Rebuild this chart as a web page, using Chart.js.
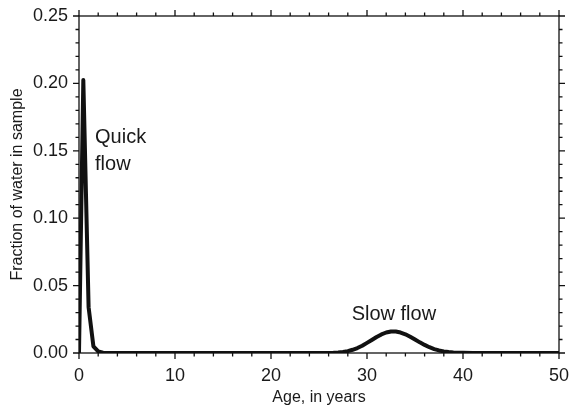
<!DOCTYPE html>
<html lang="en">
<head>
    <meta charset="UTF-8">
    <title>Age distribution</title>
    <script src="https://cdn.jsdelivr.net/npm/chart.js"></script>
    <style>
        body { margin: 0; background: #fff; }
        #graph { width: 570px; height: 407px; }
    </style>
</head>
<body>
    <div id="graph">
        <canvas id="myChart" width="570" height="407"></canvas>
    </div>

<script>
    // ages (years) and fraction of water in sample
    const ages = [0, 0.45, 1, 1.5, 2, 2.5, 3, 4, 6, 8, 10, 15, 20, 25, 26,
        26.5, 27, 27.5, 28, 28.5, 29, 29.5, 30, 30.5, 31, 31.5, 32, 32.5, 33, 33.5,
        34, 34.5, 35, 35.5, 36, 36.5, 37, 37.5, 38, 38.5, 39, 39.5, 40, 41, 45, 50];
    const fraction = [0, 0.2025, 0.034, 0.005, 0.0012, 0.0002, 0, 0, 0, 0, 0, 0, 0, 0, 0,
        0.0001, 0.0003, 0.0007, 0.0014, 0.0024, 0.0037, 0.0054, 0.0075, 0.0097, 0.0119, 0.0138, 0.0152, 0.0160, 0.0159, 0.0152,
        0.0139, 0.0121, 0.0100, 0.0079, 0.0060, 0.0043, 0.0029, 0.0019, 0.0012, 0.0007, 0.0004, 0.0002, 0.0001, 0, 0, 0];

    const xTicks = [0, 10, 20, 30, 40, 50];
    const yTicks = [0, 0.05, 0.10, 0.15, 0.20, 0.25];

    const labels = [
        { text: 'Quick', x: 1.67, y: 0.1555, align: 'left' },
        { text: 'flow', x: 1.67, y: 0.136, align: 'left' },
        { text: 'Slow flow', x: 32.8, y: 0.0245, align: 'center' }
    ];

    const punti = ages.map((a, i) => ({ x: a, y: fraction[i] }));

    // frame, ticks and the text labels
    const moldura = {
        id: 'moldura',
        afterDraw(chart) {
            const c = chart.ctx;
            const a = chart.chartArea;
            const xs = chart.scales.x;
            const ys = chart.scales.y;
            c.save();
            c.strokeStyle = '#111';
            c.lineWidth = 1.3;
            c.strokeRect(a.left, a.top, a.right - a.left, a.bottom - a.top);
            // x ticks every 2 years, major every 10
            for (let v = 0; v <= 50; v += 2) {
                const px = xs.getPixelForValue(v);
                const len = (v % 10 === 0) ? 6 : 3.5;
                c.beginPath();
                c.moveTo(px, a.bottom); c.lineTo(px, a.bottom + len);
                c.moveTo(px, a.top); c.lineTo(px, a.top - len);
                c.stroke();
            }
            // y ticks every 0.01, major every 0.05
            for (let k = 0; k <= 25; k++) {
                const py = ys.getPixelForValue(k / 100);
                const len = (k % 5 === 0) ? 6 : 3.5;
                c.beginPath();
                c.moveTo(a.left, py); c.lineTo(a.left - len, py);
                c.moveTo(a.right, py); c.lineTo(a.right + len, py);
                c.stroke();
            }
            c.fillStyle = '#1a1a1a';
            c.font = '20px "Liberation Sans", Arial, sans-serif';
            c.textBaseline = 'alphabetic';
            labels.forEach(l => {
                c.textAlign = l.align;
                c.fillText(l.text, xs.getPixelForValue(l.x), ys.getPixelForValue(l.y));
            });
            c.restore();
        }
    };

    const ctx = document.getElementById('myChart');

    new Chart(ctx, {
        type: 'line',
        data: {
            datasets: [{
                data: punti,
                borderColor: '#111',
                backgroundColor: '#111',
                borderWidth: 4,
                pointRadius: 0,
                tension: 0,
                borderJoinStyle: 'round',
                fill: false
            }]
        },
        options: {
            responsive: false,
            animation: false,
            devicePixelRatio: 1,
            layout: { padding: { top: 16, right: 11, left: 0, bottom: 0 } },
            plugins: { legend: { display: false }, tooltip: { enabled: false } },
            scales: {
                x: {
                    type: 'linear',
                    min: 0, max: 50,
                    afterFit(s) { s.height = 54; s.paddingLeft = 0; s.paddingRight = 0; },
                    afterBuildTicks(s) { s.ticks = xTicks.map(v => ({ value: v })); },
                    grid: { display: false },
                    border: { display: false },
                    ticks: {
                        color: '#1a1a1a', padding: 4,
                        font: { family: '"Liberation Sans", Arial, sans-serif', size: 18 },
                        maxRotation: 0
                    },
                    title: {
                        display: true, text: 'Age, in years', color: '#1a1a1a',
                        font: { family: '"Liberation Sans", Arial, sans-serif', size: 16 },
                        padding: { top: 0, bottom: 0 }
                    }
                },
                y: {
                    min: 0, max: 0.25,
                    afterFit(s) { s.width = 79; s.paddingTop = 0; s.paddingBottom = 0; },
                    afterBuildTicks(s) { s.ticks = yTicks.map(v => ({ value: v })); },
                    grid: { display: false },
                    border: { display: false },
                    ticks: {
                        color: '#1a1a1a', padding: 3,
                        font: { family: '"Liberation Sans", Arial, sans-serif', size: 18 },
                        callback: v => v.toFixed(2)
                    },
                    title: {
                        display: true, text: 'Fraction of water in sample', color: '#1a1a1a',
                        font: { family: '"Liberation Sans", Arial, sans-serif', size: 16 },
                        padding: { top: 8, bottom: 0 }
                    }
                }
            }
        },
        plugins: [moldura]
    });
</script>
</body>
</html>
